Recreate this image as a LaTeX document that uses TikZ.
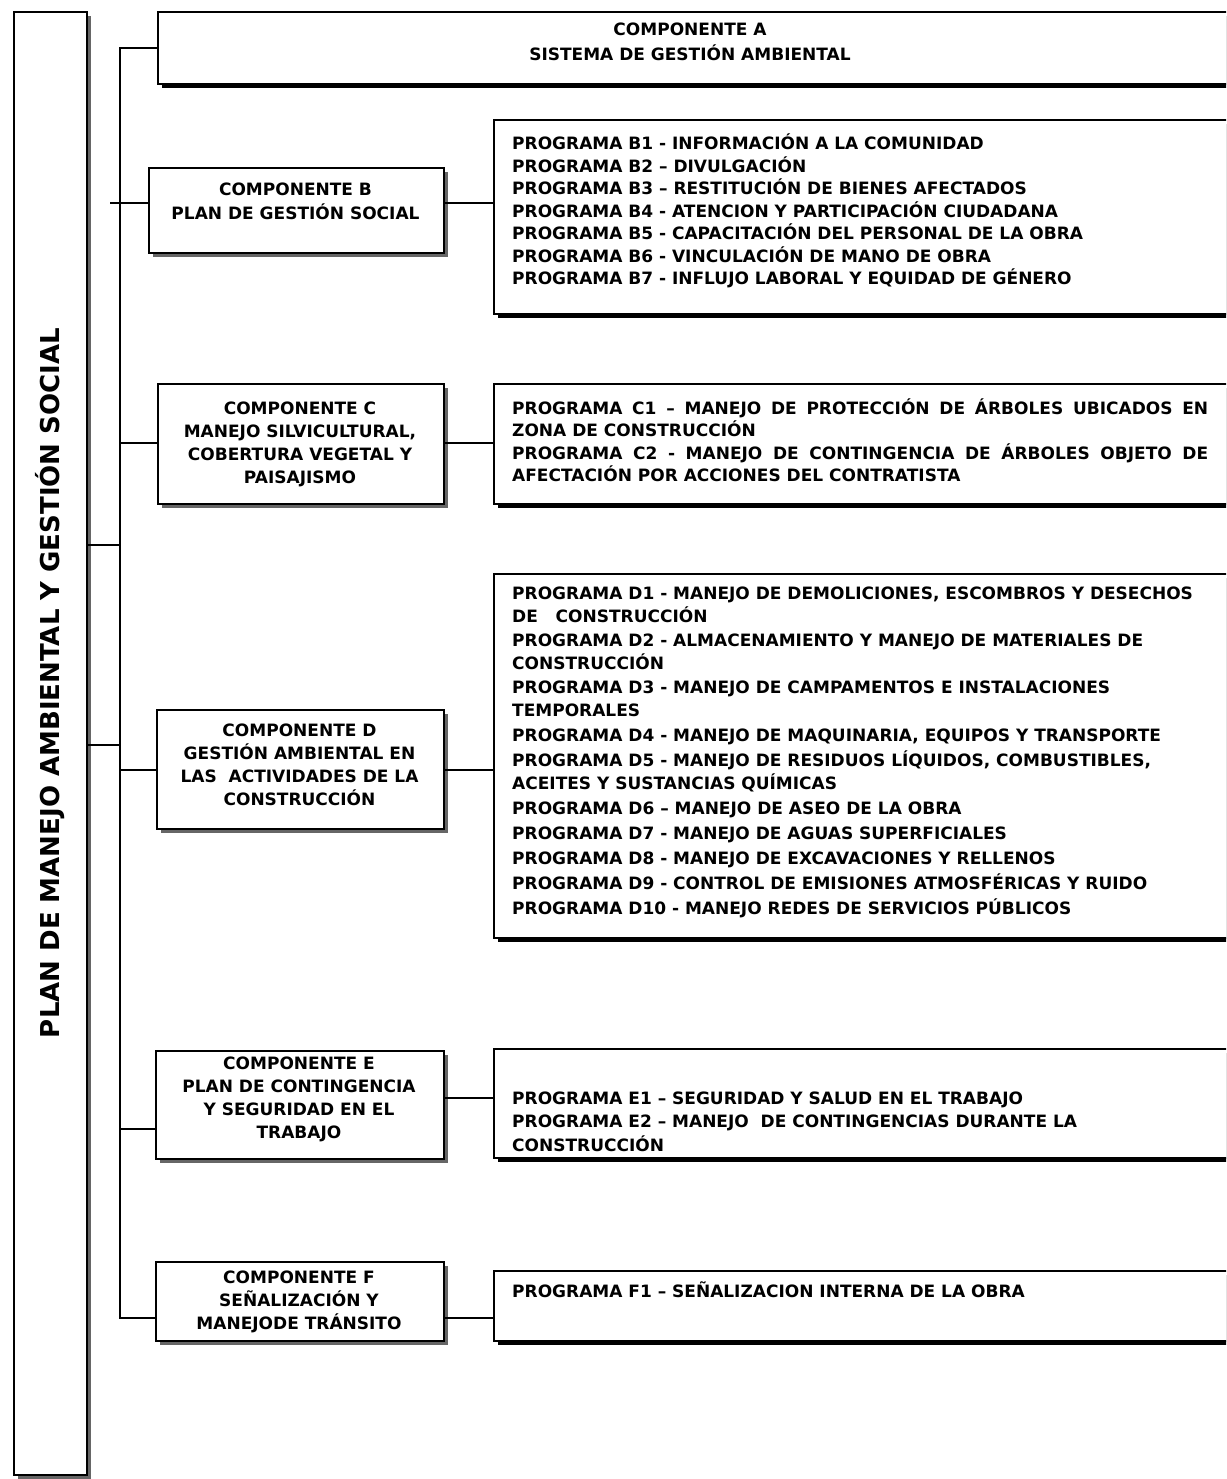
\documentclass[tikz,border=0pt]{standalone}
\usepackage{fontspec}
\setmainfont{DejaVu Sans}
\usetikzlibrary{shadows}
\begin{document}
\begin{tikzpicture}[x=1pt,y=-1pt,
  box/.style={draw, line width=1.8pt, fill=white, inner sep=0pt, anchor=north west},
  darkshadow/.style={drop shadow={shadow xshift=4pt, shadow yshift=-4pt, fill=black, opacity=1}},
  grayshadow/.style={drop shadow={shadow xshift=4pt, shadow yshift=-4pt, fill=black!60, opacity=1}},
  conn/.style={line width=1.5pt},
  ptxt/.style={inner sep=0pt, anchor=base west, font=\bfseries\fontsize{17}{22.5}\selectfont},
  ctxt/.style={inner sep=0pt, anchor=base, font=\bfseries\fontsize{17}{23.2}\selectfont},
]
\clip (0,0) rectangle (1226,1479);
\fill[white] (0,0) rectangle (1226,1479);

% tall title box
\node[box, grayshadow, minimum width=73pt, minimum height=1463pt] (tall) at (13,11) {};
\node[font=\bfseries\fontsize{26}{30}\selectfont, rotate=90, inner sep=0pt] (title) at (50,683) {PLAN DE MANEJO AMBIENTAL Y GESTIÓN SOCIAL};

% component boxes
\node[box, darkshadow, minimum width=1090pt, minimum height=72pt] (Abox) at (157,11) {};
\node[box, grayshadow, minimum width=295pt, minimum height=85pt] (Bbox) at (148,167) {};
\node[box, grayshadow, minimum width=286pt, minimum height=120pt] (Cbox) at (157,383) {};
\node[box, grayshadow, minimum width=287pt, minimum height=119pt] (Dbox) at (156,709) {};
\node[box, grayshadow, minimum width=288pt, minimum height=108pt] (Ebox) at (155,1050) {};
\node[box, grayshadow, minimum width=288pt, minimum height=79pt] (Fbox) at (155,1261) {};

% program boxes
\node[box, darkshadow, minimum width=760pt, minimum height=194pt] (Bp) at (493,119) {};
\node[box, darkshadow, minimum width=760pt, minimum height=120pt] (Cp) at (493,383) {};
\node[box, darkshadow, minimum width=760pt, minimum height=364pt] (Dp) at (493,573) {};
\node[box, darkshadow, minimum width=760pt, minimum height=109pt] (Ep) at (493,1048) {};
\node[box, darkshadow, minimum width=760pt, minimum height=70pt] (Fp) at (493,1270) {};

% junction coordinates
\coordinate (jA) at (120,48);
\coordinate (jF) at (120,1318);
\coordinate (jB) at (110,203);
\coordinate (jC) at (120,443);
\coordinate (jD) at (120,770);
\coordinate (jE) at (120,1129);
\coordinate (kE) at (0,1098);
\coordinate (jT1) at (120,545);
\coordinate (jT2) at (120,745);

% connectors
\draw[conn] (Abox.west |- jA) -- (jA) -- (jF) -- (Fbox.west |- jF);
\draw[conn] (jB) -- (Bbox.west |- jB);
\draw[conn] (jC) -- (Cbox.west |- jC);
\draw[conn] (jD) -- (Dbox.west |- jD);
\draw[conn] (jE) -- (Ebox.west |- jE);
\draw[conn] (tall.east |- jT1) -- (jT1);
\draw[conn] (tall.east |- jT2) -- (jT2);
\draw[conn] (Bbox.east |- jB) -- (Bp.west |- jB);
\draw[conn] (Cbox.east |- jC) -- (Cp.west |- jC);
\draw[conn] (Dbox.east |- jD) -- (Dp.west |- jD);
\draw[conn] (Ebox.east |- kE) -- (Ep.west |- kE);
\draw[conn] (Fbox.east |- jF) -- (Fp.west |- jF);

% component texts
\node[ctxt, font=\bfseries\fontsize{17}{25}\selectfont] (tA) at (690,36) {\parbox[t]{600pt}{\centering COMPONENTE A\\SISTEMA DE GESTIÓN AMBIENTAL}};
\node[ctxt] (tB) at (295.5,196) {\parbox[t]{290pt}{\centering COMPONENTE B\\PLAN DE GESTIÓN SOCIAL}};
\node[ctxt] (tC) at (300,414) {\parbox[t]{286pt}{\centering COMPONENTE C\\MANEJO SILVICULTURAL,\\COBERTURA VEGETAL Y\\PAISAJISMO}};
\node[ctxt] (tD) at (299.5,736) {\parbox[t]{287pt}{\centering COMPONENTE D\\GESTIÓN AMBIENTAL EN\\LAS\ \ ACTIVIDADES DE LA\\CONSTRUCCIÓN}};
\node[ctxt] (tE) at (299,1069) {\parbox[t]{288pt}{\centering COMPONENTE E\\PLAN DE CONTINGENCIA\\Y SEGURIDAD EN EL\\TRABAJO}};
\node[ctxt] (tF) at (299,1283) {\parbox[t]{288pt}{\centering COMPONENTE F\\SEÑALIZACIÓN Y\\MANEJODE TRÁNSITO}};

% program texts
\node[ptxt] (pB) at (512,150) {\parbox[t]{800pt}{\raggedright
PROGRAMA B1 - INFORMACIÓN A LA COMUNIDAD\\
PROGRAMA B2 – DIVULGACIÓN\\
PROGRAMA B3 – RESTITUCIÓN DE BIENES AFECTADOS\\
PROGRAMA B4 - ATENCION Y PARTICIPACIÓN CIUDADANA\\
PROGRAMA B5 - CAPACITACIÓN DEL PERSONAL DE LA OBRA\\
PROGRAMA B6 - VINCULACIÓN DE MANO DE OBRA\\
PROGRAMA B7 - INFLUJO LABORAL Y EQUIDAD DE GÉNERO}};

\node[ptxt, font=\bfseries\fontsize{17}{22.5}\selectfont] (pC) at (512,414) {\parbox[t]{800pt}{\raggedright
\makebox[696pt][s]{PROGRAMA C1 – MANEJO DE PROTECCIÓN DE ÁRBOLES UBICADOS EN}\\
ZONA DE CONSTRUCCIÓN\\
\makebox[696pt][s]{PROGRAMA C2 - MANEJO DE CONTINGENCIA DE ÁRBOLES OBJETO DE}\\
AFECTACIÓN POR ACCIONES DEL CONTRATISTA}};

\node[ptxt, font=\bfseries\fontsize{17}{23.5}\selectfont] (pD) at (512,599) {\parbox[t]{800pt}{\raggedright
PROGRAMA D1 - MANEJO DE DEMOLICIONES, ESCOMBROS Y DESECHOS\\
DE\ \ \ CONSTRUCCIÓN\\
PROGRAMA D2 - ALMACENAMIENTO Y MANEJO DE MATERIALES DE\\
CONSTRUCCIÓN\\
PROGRAMA D3 - MANEJO DE CAMPAMENTOS E INSTALACIONES\\
TEMPORALES\\[1pt]
PROGRAMA D4 - MANEJO DE MAQUINARIA, EQUIPOS Y TRANSPORTE\\[1.5pt]
PROGRAMA D5 - MANEJO DE RESIDUOS LÍQUIDOS, COMBUSTIBLES,\\
ACEITES Y SUSTANCIAS QUÍMICAS\\[1.5pt]
PROGRAMA D6 – MANEJO DE ASEO DE LA OBRA\\[1.5pt]
PROGRAMA D7 - MANEJO DE AGUAS SUPERFICIALES\\[1.5pt]
PROGRAMA D8 - MANEJO DE EXCAVACIONES Y RELLENOS\\[1.5pt]
PROGRAMA D9 - CONTROL DE EMISIONES ATMOSFÉRICAS Y RUIDO\\[1.5pt]
PROGRAMA D10 - MANEJO REDES DE SERVICIOS PÚBLICOS}};

\node[ptxt, font=\bfseries\fontsize{17}{23.5}\selectfont] (pE) at (512,1104) {\parbox[t]{800pt}{\raggedright
PROGRAMA E1 – SEGURIDAD Y SALUD EN EL TRABAJO\\
PROGRAMA E2 – MANEJO\ \ DE CONTINGENCIAS DURANTE LA\\
CONSTRUCCIÓN}};

\node[ptxt] (pF) at (512,1297) {PROGRAMA F1 – SEÑALIZACION INTERNA DE LA OBRA};
\end{tikzpicture}
\end{document}
